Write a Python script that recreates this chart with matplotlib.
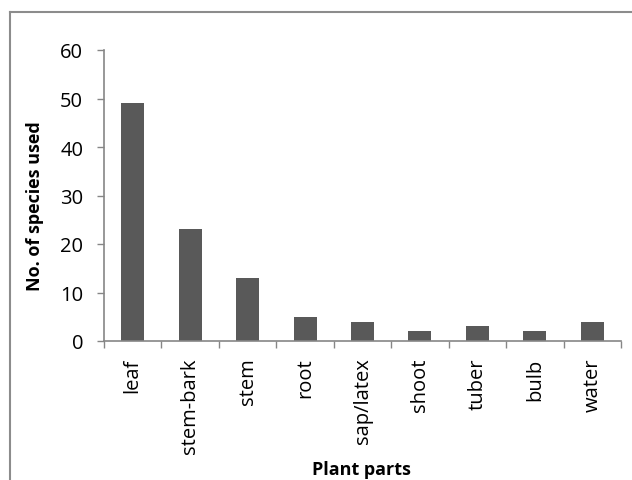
import numpy as np
import matplotlib.pyplot as plt
from matplotlib.lines import Line2D

# dados
partes = ['leaf', 'stem-bark', 'stem', 'root', 'sap/latex', 'shoot', 'tuber', 'bulb', 'water']
especies = [49, 23, 13, 5, 4, 2, 3, 2, 4]
yticks = [0, 10, 20, 30, 40, 50, 60]

plt.rcParams['font.family'] = ['Open Sans', 'DejaVu Sans']

W, H = 632, 481
fig = plt.figure(figsize=(W / 100, H / 100), dpi=100)

# moldura (só topo e esquerda aparecem)
fig.add_artist(Line2D([10 / W, 10 / W], [0, 1 - 13 / H], transform=fig.transFigure,
                      color='#8c8c8c', lw=1.5))
fig.add_artist(Line2D([10 / W, 1], [1 - 13 / H, 1 - 13 / H], transform=fig.transFigure,
                      color='#8c8c8c', lw=1.5))

ax = fig.add_axes([104 / W, (H - 342) / H, (621 - 104) / W, (342 - 51) / H])
x = np.arange(len(partes))
ax.bar(x, especies, width=0.4, color='#595959')

ax.set_xlim(-0.5, len(partes) - 0.5)
ax.set_ylim(0, 60)
ax.set_yticks(yticks)
ax.set_yticklabels([str(v) for v in yticks], fontsize=14.5)

ax.set_xticks(x)
ax.set_xticklabels(partes, rotation=90, fontsize=14.5)
ax.set_xticks(np.arange(len(partes) + 1) - 0.5, minor=True)
ax.tick_params(axis='x', which='major', length=0, pad=12)
ax.tick_params(axis='x', which='minor', length=5, width=1, color='#868686', direction='out')
ax.tick_params(axis='y', length=5, width=1, color='#868686', direction='out', pad=10)

for s in ['top', 'right']:
    ax.spines[s].set_visible(False)
for s in ['left', 'bottom']:
    ax.spines[s].set_color('#868686')
    ax.spines[s].set_linewidth(1.2)

fig.text(361 / W, 1 - 470 / H, 'Plant parts', fontsize=13, fontweight='bold',
         ha='center', va='center')
fig.text(35 / W, 1 - 206 / H, 'No. of species used', fontsize=13, fontweight='bold',
         ha='center', va='center', rotation=90)

fig.savefig('out.png', dpi=100)
